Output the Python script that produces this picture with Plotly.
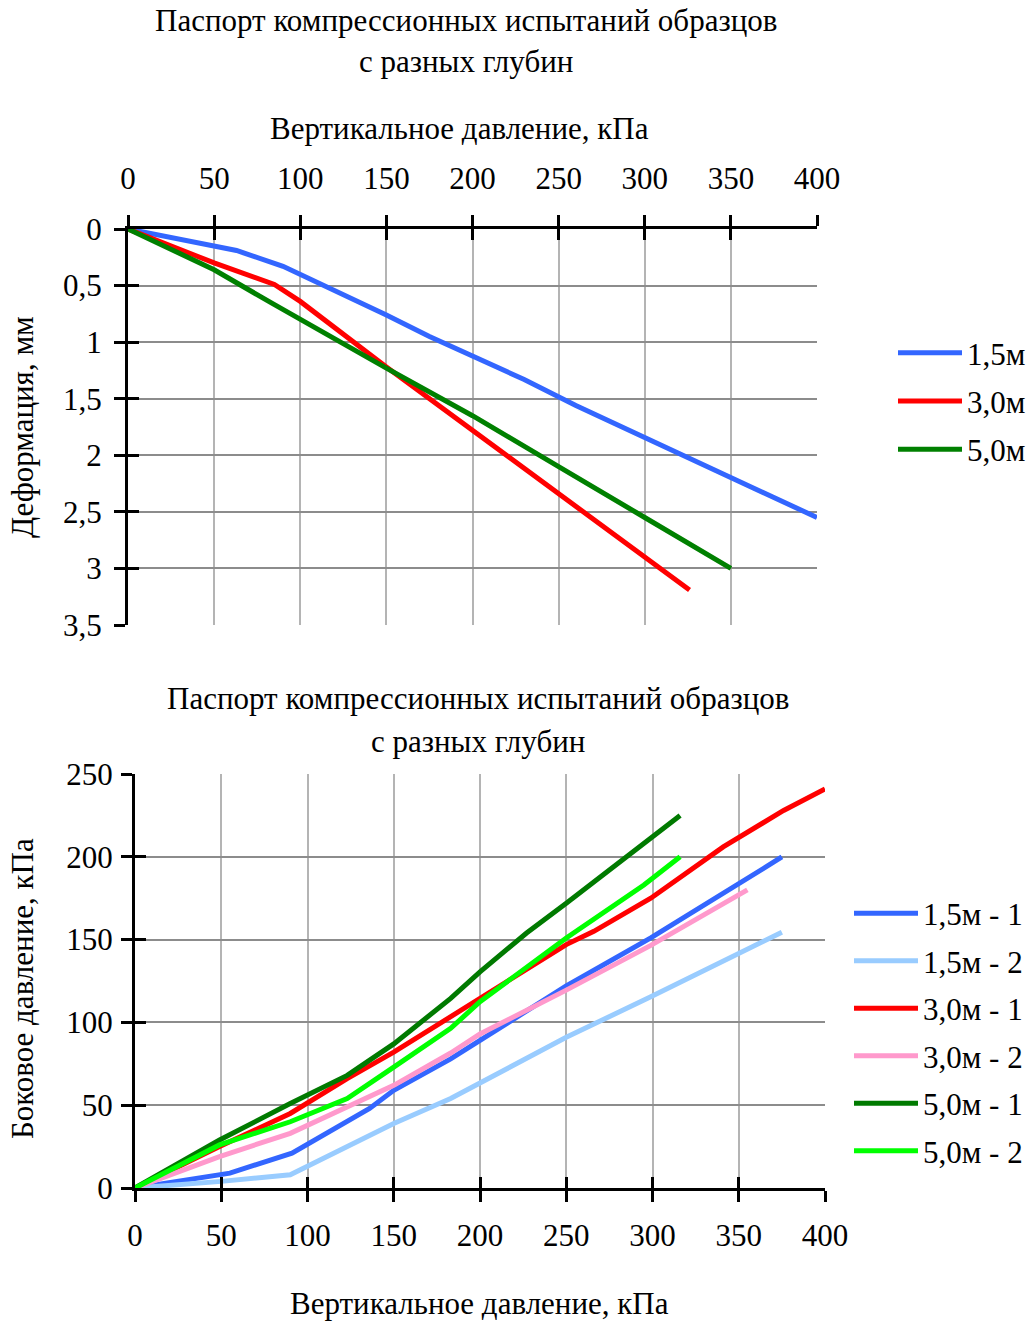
import plotly.graph_objects as go

# ---------- data: top chart (deformation vs vertical pressure) ----------
top_names = ["1,5м", "3,0м", "5,0м"]
top_colors = ["#3366FF", "#FF0000", "#008000"]
p15_x = [0, 63, 90, 120, 150, 175, 200, 230, 260, 300, 350, 400]
p15_y = [0, 0.19, 0.33, 0.54, 0.76, 0.95, 1.12, 1.33, 1.56, 1.84, 2.19, 2.55]
p30_x = [0, 50, 85, 100, 150, 200, 250, 300, 326]
p30_y = [0, 0.30, 0.49, 0.64, 1.22, 1.78, 2.34, 2.90, 3.19]
p50_x = [0, 50, 84, 100, 150, 200, 226, 250, 300, 350]
p50_y = [0, 0.36, 0.66, 0.80, 1.23, 1.65, 1.88, 2.10, 2.55, 3.00]

# ---------- data: bottom chart (lateral vs vertical pressure) ----------
bot_names = ["1,5м - 1", "1,5м - 2", "3,0м - 1", "3,0м - 2", "5,0м - 1", "5,0м - 2"]
bot_colors = ["#3366FF", "#99CCFF", "#FF0000", "#FF99CC", "#007A00", "#00FF00"]
b151_x = [0, 55, 91, 136, 150, 183, 250, 299, 366, 375]
b151_y = [0, 9, 21, 48, 59, 78, 122, 151, 194, 200]
b152_x = [0, 50, 90, 150, 183, 250, 299, 375]
b152_y = [0, 4, 8, 39, 54, 91, 115.5, 154.5]
b301_x = [0, 49, 90, 123, 150, 183, 200, 250, 266, 299, 341, 376, 400]
b301_y = [0, 25, 45, 66, 82, 103.5, 114, 147, 155, 175, 206, 228, 241]
b302_x = [0, 49, 90, 123, 150, 183, 200, 250, 299, 355]
b302_y = [0, 19, 33, 49, 62, 81.5, 93, 119.5, 146.5, 180]
b501_x = [0, 49, 90, 123, 150, 183, 200, 227, 250, 316]
b501_y = [0, 29, 51, 68, 87, 114.5, 130.5, 154, 172, 225]
b502_x = [0, 49, 90, 123, 150, 183, 200, 250, 295, 316]
b502_y = [0, 26, 40, 54, 73, 96.4, 112.5, 151, 183, 200]

top_title = ["Паспорт компрессионных испытаний образцов", "с разных глубин"]
x_title = "Вертикальное давление, кПа"
top_y_title = "Деформация, мм"
bot_y_title = "Боковое давление, кПа"

W, H = 1036, 1322
FONT = "Liberation Serif"
FS = 31


def px(x):
    return x / W


def py(y):
    return 1 - y / H


fig = go.Figure()

for name, color, xs, ys in zip(top_names, top_colors,
                               [p15_x, p30_x, p50_x], [p15_y, p30_y, p50_y]):
    fig.add_trace(go.Scatter(x=xs, y=ys, name=name, mode="lines",
                             line=dict(color=color, width=5),
                             xaxis="x", yaxis="y", legend="legend",
                             legendgroup=name))

for name, color, xs, ys in zip(bot_names, bot_colors,
                               [b151_x, b152_x, b301_x, b302_x, b501_x, b502_x],
                               [b151_y, b152_y, b301_y, b302_y, b501_y, b502_y]):
    fig.add_trace(go.Scatter(x=xs, y=ys, name=name, mode="lines",
                             line=dict(color=color, width=5),
                             xaxis="x2", yaxis="y2", legend="legend2",
                             legendgroup=name))

# invisible traces for tick-overlay axes (crossing ticks)
fig.add_trace(go.Scatter(x=[None], y=[None], xaxis="x3", yaxis="y3", showlegend=False, hoverinfo="skip"))
fig.add_trace(go.Scatter(x=[None], y=[None], xaxis="x4", yaxis="y4", showlegend=False, hoverinfo="skip"))

tickfont = dict(family=FONT, size=FS, color="black")
grid_v = "#b4b4b4"
grid_h = "#8c8c8c"

top_xd = [px(128), px(817)]
top_yd = [py(625), py(229)]
bot_xd = [px(135), px(825)]
bot_yd = [py(1188), py(774)]

TL = 11
common_x = dict(range=[0, 400], dtick=50, tick0=0, showgrid=True, gridcolor=grid_v, gridwidth=1.5,
                showline=True, linecolor="black", linewidth=3, ticks="outside", ticklen=TL,
                tickwidth=3, tickcolor="black", tickfont=tickfont, zeroline=False,
                fixedrange=True, automargin=False)
overlay = dict(ticks="inside", ticklen=TL, tickwidth=3, tickcolor="black", showticklabels=False,
               showgrid=False, showline=False, zeroline=False, automargin=False)

fig.update_layout(
    width=W, height=H, autosize=False,
    margin=dict(l=0, r=0, t=0, b=0, pad=0, autoexpand=False),
    paper_bgcolor="white", plot_bgcolor="white",
    separators=", ",
    font=dict(family=FONT, size=FS, color="black"),
    xaxis=dict(domain=top_xd, anchor="y", side="top", ticklabelstandoff=14, **common_x),
    yaxis=dict(domain=top_yd, anchor="x", range=[3.5, 0], dtick=0.5, tick0=0,
               showgrid=True, gridcolor=grid_h, gridwidth=1.5, showline=True, linecolor="black",
               linewidth=3, ticks="outside", ticklen=TL, tickwidth=3, tickcolor="black",
               tickfont=tickfont, zeroline=False, ticklabelstandoff=6, fixedrange=True,
               automargin=False),
    xaxis2=dict(domain=bot_xd, anchor="y2", side="bottom", ticklabelstandoff=7, **common_x),
    yaxis2=dict(domain=bot_yd, anchor="x2", range=[0, 250], dtick=50, tick0=0,
                showgrid=True, gridcolor=grid_h, gridwidth=1.5, showline=True, linecolor="black",
                linewidth=3, ticks="outside", ticklen=TL, tickwidth=3, tickcolor="black",
                tickfont=tickfont, zeroline=False, ticklabelstandoff=2, fixedrange=True,
                automargin=False),
    xaxis3=dict(overlaying="x", matches="x", anchor="y3", side="top",
                range=[0, 400], dtick=50, tick0=0, **overlay),
    yaxis3=dict(overlaying="y", matches="y", anchor="x3", side="left",
                range=[3.5, 0], dtick=0.5, tick0=0, **overlay),
    xaxis4=dict(overlaying="x2", matches="x2", anchor="y4", side="bottom",
                range=[0, 400], dtick=50, tick0=0, **overlay),
    yaxis4=dict(overlaying="y2", matches="y2", anchor="x4", side="left",
                range=[0, 250], dtick=50, tick0=0, **overlay),
    legend=dict(x=px(893), y=py(401), xref="container", yref="container",
                xanchor="left", yanchor="middle",
                font=dict(family=FONT, size=FS), tracegroupgap=5, traceorder="grouped",
                bgcolor="rgba(0,0,0,0)", itemwidth=64),
    legend2=dict(x=px(849), y=py(1032), xref="container", yref="container",
                 xanchor="left", yanchor="middle",
                 font=dict(family=FONT, size=FS), tracegroupgap=4.2, traceorder="grouped",
                 bgcolor="rgba(0,0,0,0)", itemwidth=64),
    showlegend=True,
)

ann = []
ann.append(dict(text=top_title[0], x=px(466), y=py(20)))
ann.append(dict(text=top_title[1], x=px(466), y=py(61)))
ann.append(dict(text=x_title, x=px(459), y=py(128)))
ann.append(dict(text=top_y_title, x=px(22), y=py(427), textangle=-90))
ann.append(dict(text=top_title[0], x=px(478), y=py(699)))
ann.append(dict(text=top_title[1], x=px(478), y=py(741)))
ann.append(dict(text=x_title, x=px(479), y=py(1303)))
ann.append(dict(text=bot_y_title, x=px(22), y=py(989), textangle=-90))
for a in ann:
    a.update(xref="paper", yref="paper", showarrow=False, xanchor="center", yanchor="middle",
             font=dict(family=FONT, size=FS, color="black"))
fig.update_layout(annotations=ann)

fig.write_html("out.html",
               post_script="document.body.style.margin='0';document.body.style.padding='0';")
